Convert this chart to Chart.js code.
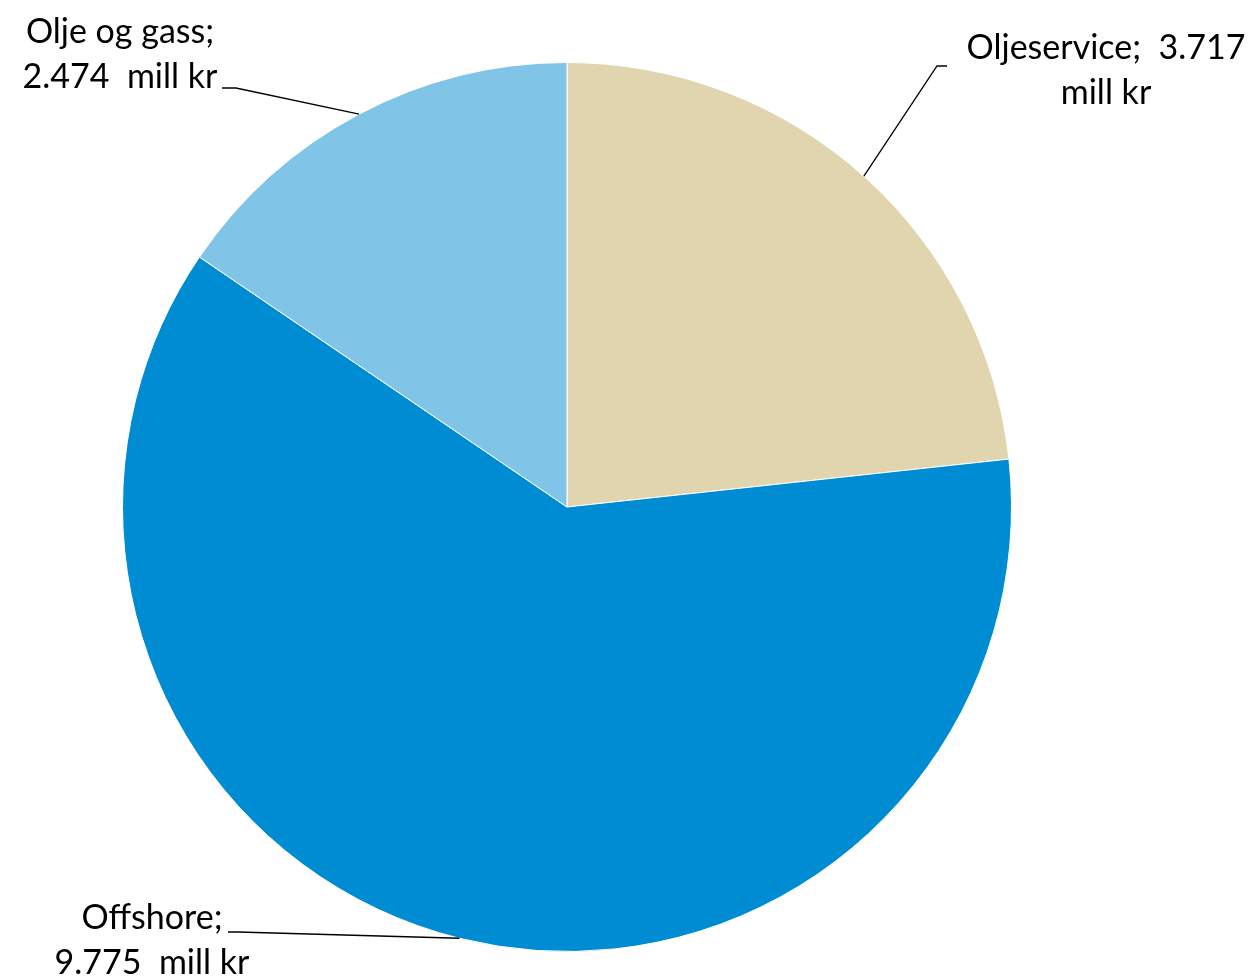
<!DOCTYPE html>
<html>
<head>
<meta charset="utf-8">
<script src="https://cdn.jsdelivr.net/npm/chart.js@4/dist/chart.umd.min.js"></script>
<style>
  html, body { margin: 0; padding: 0; background: #fff; }
  #wrap { width: 1250px; height: 978px; position: relative; }
</style>
</head>
<body>
<div id="wrap"><canvas id="pie"></canvas></div>
<script>
// data
const labels = ["Oljeservice", "Offshore", "Olje og gass"];
const values = [3.717, 9.775, 2.474];
const valueText = ["3.717", "9.775", "2.474"];
const colors = ["#E0D5AF", "#008CD2", "#80C4E8"];

// label layout: text lines, text centre x, first line y, elbow and end of leader line
const labelLayout = [
  { lines: ["Oljeservice;  " + valueText[0], "mill kr"], cx: 1106, y: 48, elbow: [937, 66], end: [947, 66] },
  { lines: ["Offshore;", valueText[1] + "  mill kr"], cx: 152, y: 918, elbow: [238, 932], end: [228, 932] },
  { lines: ["Olje og gass;", valueText[2] + "  mill kr"], cx: 120, y: 32, elbow: [236, 88], end: [222, 88] }
];

const leaderLabels = {
  id: "leaderLabels",
  afterDraw(chart) {
    const ctx = chart.ctx;
    const arcs = chart.getDatasetMeta(0).data;
    ctx.save();
    ctx.strokeStyle = "#000";
    ctx.lineWidth = 1.3;
    arcs.forEach((arc, i) => {
      const L = labelLayout[i];
      const mid = (arc.startAngle + arc.endAngle) / 2;
      const ax = arc.x + Math.cos(mid) * arc.outerRadius;
      const ay = arc.y + Math.sin(mid) * arc.outerRadius;
      ctx.beginPath();
      ctx.moveTo(ax, ay);
      ctx.lineTo(L.elbow[0], L.elbow[1]);
      ctx.lineTo(L.end[0], L.end[1]);
      ctx.stroke();
      ctx.fillStyle = "#000";
      ctx.font = "34px Lato";
      ctx.textAlign = "center";
      ctx.textBaseline = "middle";
      L.lines.forEach((t, k) => ctx.fillText(t, L.cx, L.y + k * 45));
    });
    ctx.restore();
  }
};

new Chart(document.getElementById("pie"), {
  type: "pie",
  data: {
    labels,
    datasets: [{
      data: values,
      backgroundColor: colors,
      borderColor: "#ffffff",
      borderWidth: 1
    }]
  },
  options: {
    responsive: true,
    maintainAspectRatio: false,
    animation: false,
    layout: { padding: { left: 122, right: 238, top: 62, bottom: 26 } },
    plugins: {
      legend: { display: false },
      tooltip: { enabled: false }
    }
  },
  plugins: [leaderLabels]
});
</script>
</body>
</html>
